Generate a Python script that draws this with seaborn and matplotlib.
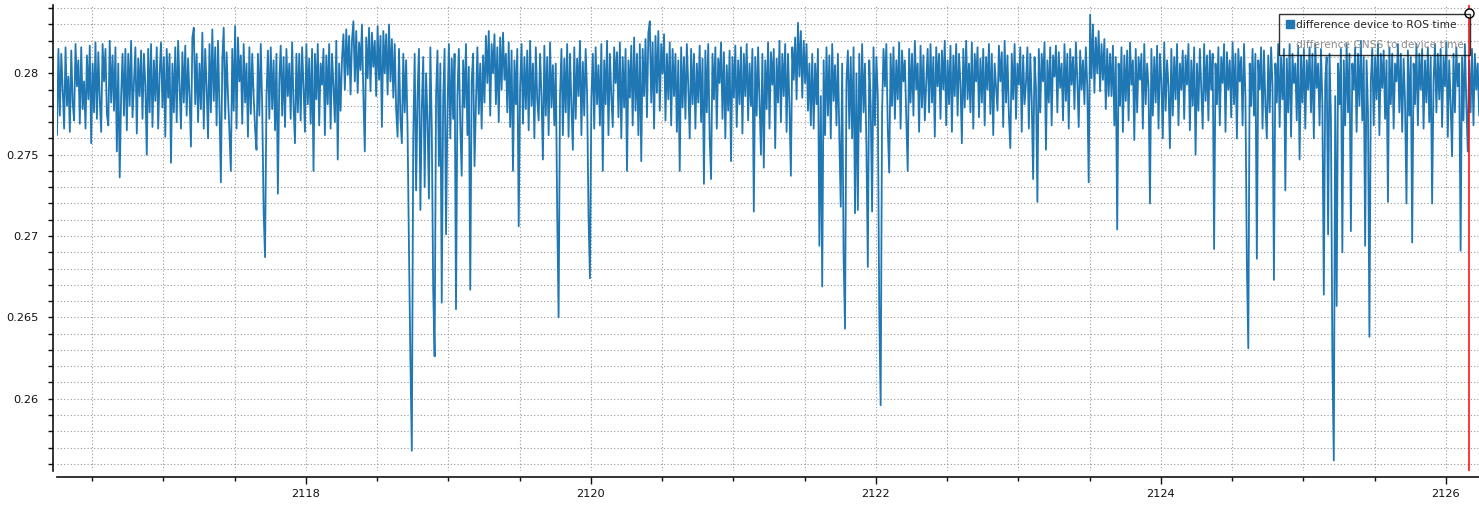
import numpy as np
import pandas as pd
import matplotlib
matplotlib.use('Agg')
import matplotlib.pyplot as plt
import matplotlib.ticker as mticker
import matplotlib.transforms as mtransforms
from matplotlib.lines import Line2D
import seaborn as sns

t_start = 2116.253
sample_period = 0.01
diff_device_ros_e4 = [
    2762, 2815, 2774, 2812, 2790, 2766, 2816, 2780, 2798, 2764,
    2814, 2782, 2771, 2818, 2792, 2808, 2769, 2816, 2778, 2795,
    2766, 2811, 2784, 2817, 2757, 2806, 2776, 2819, 2772, 2813,
    2784, 2764, 2818, 2795, 2815, 2775, 2768, 2820, 2782, 2811,
    2777, 2816, 2752, 2806, 2736, 2786, 2812, 2774, 2815, 2765,
    2812, 2780, 2820, 2773, 2794, 2816, 2763, 2809, 2786, 2814,
    2772, 2812, 2793, 2750, 2815, 2776, 2818, 2767, 2808, 2783,
    2816, 2766, 2799, 2819, 2779, 2810, 2761, 2815, 2785, 2812,
    2745, 2806, 2776, 2816, 2770, 2820, 2792, 2766, 2813, 2782,
    2817, 2774, 2809, 2786, 2755, 2822, 2828, 2781, 2812, 2770,
    2806, 2778, 2825, 2766, 2815, 2792, 2760, 2818, 2776, 2827,
    2783, 2816, 2768, 2820, 2779, 2733, 2808, 2828, 2772, 2813,
    2786, 2764, 2740, 2815, 2777, 2829, 2766, 2822, 2795, 2811,
    2769, 2818, 2782, 2806, 2761, 2816, 2775, 2812, 2786, 2766,
    2753, 2812, 2774, 2818, 2780, 2715, 2687, 2786, 2814, 2772,
    2816, 2778, 2808, 2765, 2812, 2726, 2795, 2817, 2774, 2810,
    2767, 2815, 2786, 2806, 2772, 2819, 2780, 2757, 2812, 2776,
    2812, 2771, 2816, 2792, 2764, 2818, 2781, 2809, 2769, 2815,
    2740, 2812, 2784, 2818, 2768, 2806, 2793, 2815, 2762, 2811,
    2781, 2818, 2766, 2812, 2792, 2770, 2820, 2747, 2806, 2777,
    2809, 2824, 2790, 2827, 2799, 2823, 2787, 2820, 2832, 2795,
    2826, 2788, 2819, 2802, 2830, 2786, 2752, 2822, 2797, 2828,
    2789, 2825, 2804, 2820, 2786, 2829, 2796, 2823, 2767, 2826,
    2800, 2824, 2787, 2830, 2795, 2821, 2785, 2818, 2778, 2761,
    2815, 2772, 2757, 2812, 2776, 2808, 2766, 2692, 2624, 2568,
    2760, 2812, 2728, 2786, 2815, 2716, 2778, 2810, 2730, 2800,
    2771, 2723, 2816, 2766, 2667, 2626, 2786, 2814, 2743, 2806,
    2659, 2784, 2815, 2701, 2776, 2818, 2760, 2809, 2772, 2812,
    2655, 2786, 2815, 2768, 2737, 2808, 2779, 2818, 2762, 2804,
    2667, 2795, 2812, 2743, 2781, 2816, 2775, 2806, 2766, 2811,
    2782, 2823, 2794, 2826, 2774, 2818, 2800, 2824, 2781, 2816,
    2770, 2822, 2790, 2825, 2796, 2812, 2776, 2819, 2767, 2814,
    2740, 2808, 2781, 2815, 2706, 2792, 2818, 2769, 2810, 2778,
    2814, 2765, 2820, 2780, 2806, 2760, 2816, 2784, 2771, 2812,
    2786, 2747, 2817, 2774, 2810, 2762, 2819, 2779, 2805, 2768,
    2806, 2716, 2650, 2786, 2815, 2762, 2809, 2776, 2818, 2761,
    2812, 2780, 2753, 2816, 2772, 2809, 2786, 2820, 2762, 2807,
    2774, 2815, 2787, 2712, 2674, 2784, 2812, 2766, 2816, 2781,
    2805, 2768, 2818, 2740, 2808, 2781, 2820, 2762, 2812, 2786,
    2767, 2816, 2794, 2813, 2773, 2819, 2760, 2810, 2779, 2815,
    2740, 2808, 2785, 2817, 2768, 2822, 2777, 2812, 2762, 2818,
    2746, 2815, 2786, 2821, 2773, 2825, 2832, 2782, 2819, 2766,
    2823, 2788, 2826, 2777, 2818, 2800, 2824, 2771, 2812, 2784,
    2819, 2768, 2815, 2786, 2812, 2764, 2808, 2740, 2816, 2779,
    2810, 2772, 2818, 2792, 2760, 2815, 2781, 2812, 2766, 2806,
    2782, 2817, 2770, 2809, 2732, 2814, 2776, 2818, 2761, 2735,
    2812, 2784, 2816, 2766, 2809, 2794, 2819, 2772, 2813, 2760,
    2805, 2777, 2814, 2746, 2810, 2785, 2817, 2767, 2808, 2781,
    2816, 2763, 2812, 2786, 2818, 2771, 2806, 2780, 2815, 2715,
    2810, 2774, 2816, 2783, 2750, 2812, 2742, 2808, 2778, 2819,
    2766, 2813, 2793, 2815, 2754, 2809, 2782, 2820, 2770, 2812,
    2786, 2818, 2764, 2812, 2780, 2737, 2816, 2796, 2822, 2784,
    2831, 2798, 2826, 2785, 2820, 2794, 2818, 2777, 2806, 2768,
    2812, 2766, 2806, 2781, 2815, 2694, 2786, 2669, 2808, 2762,
    2816, 2774, 2811, 2760, 2818, 2783, 2805, 2768, 2812, 2762,
    2718, 2806, 2688, 2643, 2795, 2814, 2766, 2810, 2760, 2816,
    2714, 2800, 2716, 2812, 2764, 2818, 2776, 2806, 2756, 2681,
    2808, 2781, 2715, 2816, 2768, 2810, 2786, 2656, 2596, 2776,
    2815, 2792, 2818, 2766, 2739, 2812, 2780, 2816, 2772, 2808,
    2784, 2819, 2766, 2814, 2795, 2808, 2772, 2740, 2815, 2782,
    2812, 2774, 2820, 2790, 2806, 2764, 2817, 2779, 2811, 2771,
    2795, 2815, 2776, 2818, 2782, 2810, 2761, 2816, 2792, 2812,
    2772, 2814, 2790, 2820, 2768, 2808, 2781, 2817, 2764, 2811,
    2786, 2818, 2774, 2812, 2794, 2757, 2815, 2779, 2820, 2784,
    2806, 2776, 2819, 2766, 2812, 2795, 2816, 2773, 2809, 2782,
    2815, 2768, 2810, 2790, 2818, 2775, 2812, 2762, 2806, 2792,
    2777, 2817, 2795, 2813, 2767, 2820, 2782, 2811, 2774, 2754,
    2812, 2784, 2818, 2772, 2806, 2793, 2816, 2764, 2811, 2781,
    2794, 2816, 2766, 2812, 2784, 2735, 2810, 2791, 2721, 2815,
    2776, 2812, 2795, 2819, 2753, 2808, 2782, 2816, 2768, 2811,
    2798, 2817, 2776, 2813, 2791, 2806, 2771, 2818, 2783, 2812,
    2766, 2815, 2793, 2810, 2778, 2819, 2796, 2767, 2814, 2790,
    2808, 2781, 2816, 2792, 2733, 2836, 2797, 2830, 2788, 2822,
    2800, 2826, 2789, 2818, 2796, 2821, 2778, 2815, 2786, 2812,
    2786, 2817, 2768, 2810, 2704, 2806, 2780, 2816, 2764, 2811,
    2783, 2814, 2771, 2819, 2793, 2808, 2759, 2815, 2776, 2810,
    2796, 2812, 2766, 2818, 2781, 2806, 2791, 2720, 2815, 2774,
    2810, 2782, 2817, 2766, 2812, 2795, 2760, 2819, 2777, 2808,
    2792, 2754, 2815, 2774, 2810, 2784, 2818, 2768, 2806, 2790,
    2814, 2772, 2811, 2793, 2818, 2765, 2808, 2780, 2816, 2750,
    2806, 2777, 2815, 2790, 2766, 2818, 2783, 2811, 2771, 2814,
    2790, 2812, 2692, 2806, 2781, 2816, 2768, 2810, 2794, 2818,
    2764, 2813, 2790, 2808, 2773, 2819, 2781, 2812, 2760, 2815,
    2795, 2810, 2768, 2818, 2785, 2683, 2631, 2806, 2780, 2815,
    2774, 2812, 2686, 2808, 2790, 2816, 2766, 2814, 2781, 2760,
    2811, 2776, 2816, 2792, 2673, 2806, 2782, 2818, 2767, 2810,
    2784, 2815, 2728, 2809, 2776, 2818, 2761, 2812, 2794, 2806,
    2771, 2817, 2747, 2811, 2782, 2815, 2766, 2808, 2790, 2816,
    2776, 2812, 2760, 2818, 2791, 2806, 2768, 2815, 2781, 2664,
    2795, 2810, 2701, 2812, 2772, 2626, 2562, 2786, 2657, 2806,
    2781, 2815, 2690, 2808, 2768, 2818, 2776, 2812, 2703, 2806,
    2790, 2816, 2764, 2812, 2780, 2820, 2771, 2810, 2694, 2808,
    2776, 2638, 2795, 2815, 2768, 2810, 2784, 2818, 2762, 2812,
    2791, 2814, 2772, 2808, 2721, 2816, 2781, 2812, 2766, 2806,
    2795, 2818, 2776, 2812, 2764, 2809, 2782, 2720, 2814, 2774,
    2810, 2696, 2806, 2781, 2818, 2768, 2812, 2790, 2815, 2766,
    2808, 2782, 2816, 2770, 2810, 2720, 2795, 2818, 2776, 2812,
    2784, 2815, 2767, 2810, 2792, 2819, 2761, 2808, 2781, 2749,
    2812, 2776, 2816, 2792, 2806, 2691, 2810, 2771, 2818, 2782,
    2752, 2808, 2776, 2815, 2768, 2812, 2790, 2806, 2774, 2811,
]
series_labels = ['difference device to ROS time', 'difference GNSS to device time']
cursor_time = 2126.159
x_limits = (2116.253, 2126.232)
y_limits = (0.255556, 0.284198)

df = pd.DataFrame({'time': t_start + sample_period * np.arange(len(diff_device_ros_e4)),
                   'diff': np.array(diff_device_ros_e4) / 1e4})

sns.set_style('ticks')
plt.rcParams['font.family'] = ['DejaVu Sans']

W, H = 1479, 507
fig = plt.figure(figsize=(W / 100, H / 100), dpi=100)
ax = fig.add_axes([57 / W, 1 - 471 / H, 1 - 57 / W, (471 - 5) / H])

sns.lineplot(data=df, x='time', y='diff', ax=ax, color='#1f77b4', linewidth=1.3,
             estimator=None, sort=False, legend=False)

ax.set_xlim(*x_limits)
ax.set_ylim(*y_limits)
ax.set_xlabel('')
ax.set_ylabel('')

ax.xaxis.set_major_locator(mticker.MultipleLocator(2))
ax.xaxis.set_minor_locator(mticker.MultipleLocator(0.5))
ax.yaxis.set_major_locator(mticker.MultipleLocator(0.005))
ax.yaxis.set_minor_locator(mticker.MultipleLocator(0.001))
ax.yaxis.set_major_formatter(mticker.FuncFormatter(lambda v, p: '%g' % round(v, 4)))
ax.xaxis.set_major_formatter(mticker.FuncFormatter(lambda v, p: '%d' % round(v)))

ax.grid(which='both', color='#9a9a9a', linestyle=(0, (1, 2)), linewidth=0.8)

for side in ['top', 'right']:
    ax.spines[side].set_visible(False)
ax.spines['left'].set_position(('outward', 3))
ax.spines['bottom'].set_position(('outward', 4))
for side in ['left', 'bottom']:
    ax.spines[side].set_linewidth(1.2)
    ax.spines[side].set_color('#111111')

ax.tick_params(axis='x', which='major', length=5, width=1, pad=4, labelsize=8.2, colors='#111111')
ax.tick_params(axis='x', which='minor', length=3, width=1, colors='#111111')
ax.tick_params(axis='y', which='both', length=3.6, width=1, colors='#111111')
ax.tick_params(axis='y', which='major', pad=6.5, labelsize=8.2)

# tracker line with its handle
ax.axvline(cursor_time, color='red', linewidth=1.1, zorder=5)
trans = mtransforms.blended_transform_factory(ax.transData, ax.transAxes)
ax.plot([cursor_time], [0.982], transform=trans, marker='o', markersize=6.5,
        markerfacecolor='white', markeredgecolor='black', markeredgewidth=1,
        clip_on=False, zorder=6)

h1 = Line2D([], [], marker='s', color='#1f77b4', linestyle='none', markersize=5.8)
h2 = Line2D([], [], linestyle='none')
leg = ax.legend([h1, h2], series_labels, loc='upper right',
                bbox_to_anchor=(1470 / W, 1 - 14 / H), bbox_transform=fig.transFigure,
                frameon=True, fancybox=False, facecolor='none', edgecolor='black',
                fontsize=7.7, handlelength=0.85, handletextpad=0.2, borderpad=0.55,
                labelspacing=0.9, borderaxespad=0)
leg.get_frame().set_linewidth(1.0)
leg.get_texts()[1].set_color('#8c8c8c')
leg.set_zorder(7)

fig.savefig('out.png', dpi=100)
